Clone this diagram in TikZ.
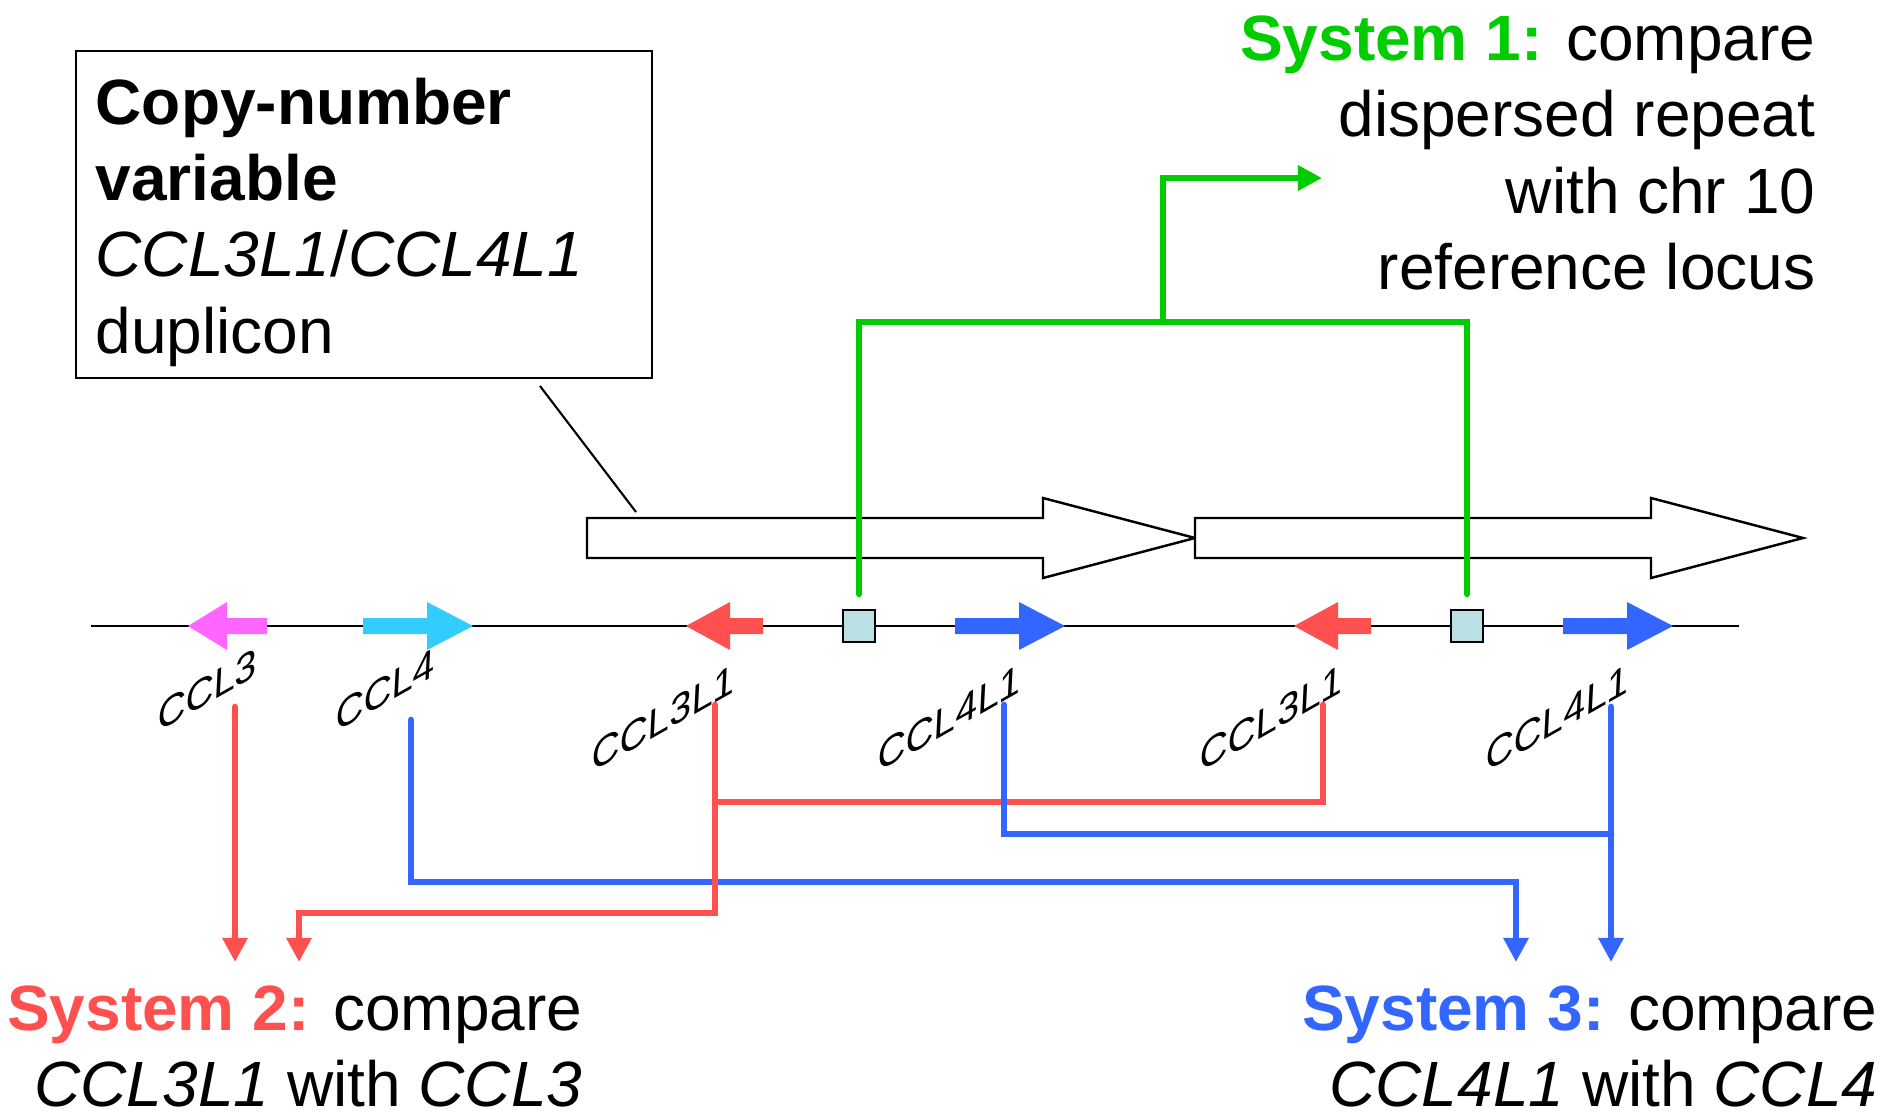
\documentclass[tikz,border=0pt]{standalone}
\usepackage{fontspec}
\setmainfont{Liberation Sans}
\usetikzlibrary{arrows.meta}

\definecolor{sysgreen}{RGB}{0,204,0}
\definecolor{sysred}{RGB}{255,80,80}
\definecolor{sysblue}{RGB}{51,102,255}
\definecolor{ccl3col}{RGB}{255,102,255}
\definecolor{ccl4col}{RGB}{51,204,255}
\definecolor{markcol}{RGB}{187,224,227}

\tikzset{
  big/.style={font=\fontsize{18.2}{21.7}\selectfont, inner sep=0pt},
  genelabel/.style={font=\fontsize{12}{14}\selectfont, cm={0.92,0.52,0.05,1,(0,0)}, anchor=base east, inner sep=0pt},
  link/.style={line width=1.9pt, line cap=round},
  linkarrow/.style={link, -{Triangle[length=0.24cm,width=0.24cm]}},
  dupl/.style={draw=black, fill=white, line width=0.7pt},
  marker/.style={draw=black, fill=markcol, line width=0.6pt, minimum size=0.32cm, inner sep=0pt},
}

\begin{document}
\begin{tikzpicture}[x=0.01cm, y=-0.01cm]
\useasboundingbox (0,0) rectangle (1902,1115);

% chromosome
\draw[line width=0.6pt] (91,626) -- (1739,626);

% the two duplicons
\foreach \d in {0,608}{
  \draw[dupl] (587+\d,518) -- (1043+\d,518) -- (1043+\d,498) -- (1195+\d,538)
    -- (1043+\d,578) -- (1043+\d,558) -- (587+\d,558) -- cycle;
}

% genes
\fill[ccl3col] (188,626) -- (227,602) -- (227,618) -- (267,618) -- (267,634) -- (227,634) -- (227,650) -- cycle;
\fill[ccl4col] (363,618) -- (427,618) -- (427,602) -- (473,626) -- (427,650) -- (427,634) -- (363,634) -- cycle;
\foreach \d/\n in {0/a,608/b}{
  \fill[sysred] (686+\d,626) -- (730+\d,602) -- (730+\d,618) -- (763+\d,618) -- (763+\d,634) -- (730+\d,634) -- (730+\d,650) -- cycle;
  \fill[sysblue] (955+\d,618) -- (1019+\d,618) -- (1019+\d,602) -- (1065+\d,626) -- (1019+\d,650) -- (1019+\d,634) -- (955+\d,634) -- cycle;
  \node[marker] (mark\n) at (859+\d,626) {};
  \node[genelabel] (lab3\n) at (735+\d,692) {CCL3L1};
  \node[genelabel] (lab4\n) at (1021+\d,692) {CCL4L1};
}
\node[genelabel] (lab3) at (257,676) {CCL3};
\node[genelabel] (lab4) at (435,676) {CCL4};

% text
\node[draw, line width=0.6pt, anchor=north west, minimum width=5.76cm, minimum height=3.27cm, inner sep=0pt] (dupbox) at (75,50) {};
\node[big, anchor=north west, align=left] (duptext) at (95,77)
  {\textbf{Copy-number}\\\textbf{variable}\\\textit{CCL3L1}/\textit{CCL4L1}\\duplicon};
\node[big, anchor=north east, align=right] (sys1) at (1816,15)
  {{\bfseries\color{sysgreen}System 1:} compare\\dispersed repeat\\with chr 10\\reference locus};
\node[big, anchor=north east, align=right] (sys2) at (583,985)
  {{\bfseries\color{sysred}System 2:} compare\\\textit{CCL3L1} with \textit{CCL3}};
\node[big, anchor=north east, align=right] (sys3) at (1878,985)
  {{\bfseries\color{sysblue}System 3:} compare\\\textit{CCL4L1} with \textit{CCL4}};

\coordinate (boxfoot) at (540,386);
\coordinate (duptail) at (636,512);
\draw[line width=0.6pt] (boxfoot) -- (duptail);

% system 1
\coordinate (gtop) at (1163,322);
\coordinate (to1) at (1322,178);
\draw[link, sysgreen] ([yshift=0.15cm]marka.north) |- (gtop) -| ([yshift=0.15cm]markb.north);
\draw[linkarrow, sysgreen] (gtop) |- (to1);

% system 2 and 3
\coordinate (in2a) at (235,962);
\coordinate (in2b) at (299,962);
\coordinate (in3a) at (1516,962);
\coordinate (in3b) at (1611,962);
\draw[linkarrow, sysblue] (411,720) |- (1516,882) -- (in3a);
\draw[linkarrow, sysred] (235,707) -- (in2a);
\draw[linkarrow, sysred] (715,705) |- (299,913) -- (in2b);
\draw[link, sysred] (1323,705) |- (715,802);
\draw[link, sysblue] (1004,705) |- (1611,834);
\draw[linkarrow, sysblue] (1611,707) -- (in3b);
\end{tikzpicture}
\end{document}
